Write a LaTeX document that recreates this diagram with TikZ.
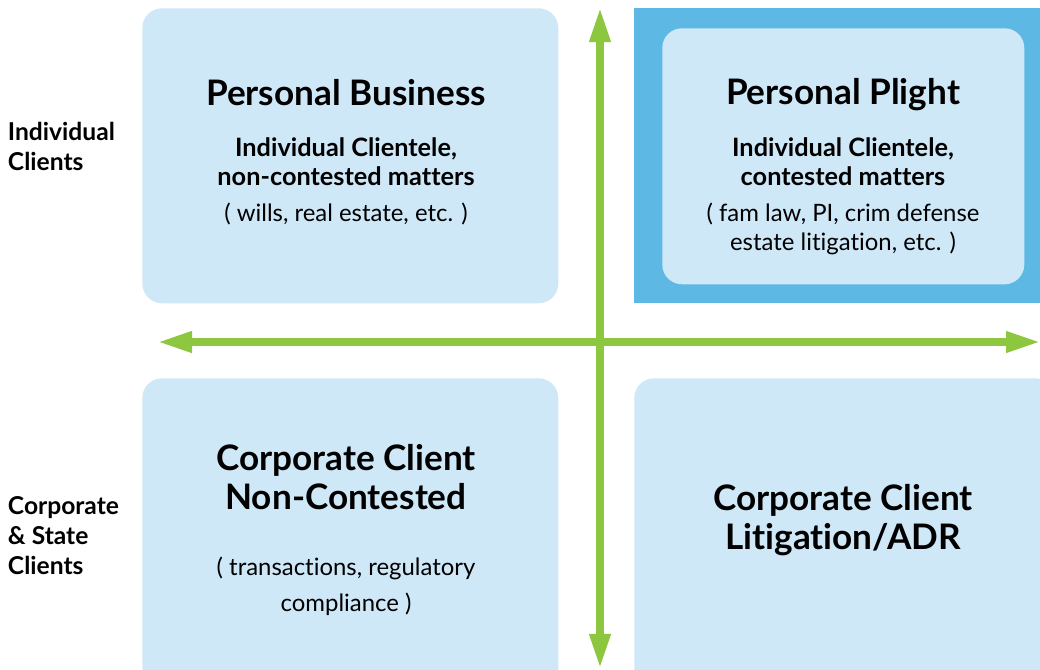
\documentclass[tikz,border=0pt]{standalone}
\usepackage{fontspec}
\setmainfont[Ligatures=NoCommon]{Lato}
\usetikzlibrary{arrows.meta}
\definecolor{paleblue}{HTML}{CFE8F8}
\definecolor{deepblue}{HTML}{5DB9E3}
\definecolor{axisgreen}{HTML}{8DC63F}
\tikzstyle{quad}=[fill=paleblue,rounded corners=14pt,inner sep=0pt,anchor=north west]
\tikzstyle{axis}=[draw=axisgreen,line width=5pt,{Triangle[length=0.85cm,width=0.5cm]}-{Triangle[length=0.85cm,width=0.5cm]}]
\tikzstyle{title}=[font=\bfseries\fontsize{25}{27.7}\selectfont,align=center]
\tikzstyle{sub}=[font=\bfseries\fontsize{18}{20.6}\selectfont,align=center]
\tikzstyle{note}=[font=\fontsize{17}{20.6}\selectfont,align=center]
\tikzstyle{side}=[font=\bfseries\fontsize{17.5}{21.3}\selectfont,align=left,anchor=west]

\begin{document}
\begin{tikzpicture}[x=0.025cm, y=-0.025cm]
    \useasboundingbox (0,0) rectangle (1040,670);
    \clip (0,0) rectangle (1040,670);
    % The four quadrants
    \fill[deepblue] (634,8) rectangle (1045,303);
    \foreach \pos/\name/\w/\h in {{(142,8)/pb/416/295}, {(662,28)/pp/362/256},
        {(142,378)/cn/416/310}, {(634,378)/cl/420/310}}
        \node[quad,minimum width=\w*0.025cm,minimum height=\h*0.025cm] (\name) at \pos {};
    % Axes
    \coordinate (up) at (600,8);
    \coordinate (down) at (600,668);
    \coordinate (west) at (158,342);
    \coordinate (east) at (1040,342);
    \path[axis] (down) -- (up);
    \path[axis] (west) -- (east);
    % Texts
    \node[title] (pbt) at (346,93) {Personal Business};
    \node[sub] (pbs) at (346,162) {Individual Clientele,\\non-contested matters};
    \node[note] (pbn) at (346,214) {( wills, real estate, etc. )};
    \node[title] (ppt) at (843,95) {Personal Plight};
    \node[sub] (pps) at (843,162) {Individual Clientele,\\contested matters};
    \node[note] (ppn) at (843,229) {( fam law, PI, crim defense\\estate litigation, etc. )};
    \node[title] (cnt) at (346,477) {Corporate Client\\Non-Contested};
    \node[note,font=\fontsize{17}{25.5}\selectfont] (cnn) at (346,586) {( transactions, regulatory\\compliance )};
    \node[title] (clt) at (843,520) {Corporate Client\\Litigation/ADR};
    \node[side] (ind) at (3,146) {Individual\\Clients};
    \node[side] (corp) at (3,536) {Corporate\\\& State\\Clients};
\end{tikzpicture}
\end{document}
